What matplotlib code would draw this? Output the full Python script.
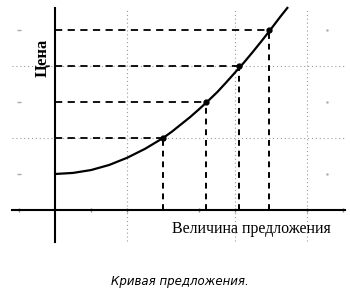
import matplotlib.pyplot as plt

# curve (1 unit = one small grid step)
curve_x = [0, 0.5, 1, 1.5, 2, 2.5, 3, 3.25, 3.5, 3.75, 4, 4.25, 4.5, 4.75, 5, 5.25, 5.5, 5.75, 6, 6.25, 6.45]
curve_y = [1.0, 1.03, 1.11, 1.25, 1.45, 1.7, 2.0, 2.18, 2.38, 2.58, 2.8, 3.03, 3.27, 3.54, 3.82, 4.1, 4.4, 4.71, 5.03, 5.36, 5.61]

# marked points on the curve
point_x = [3.0, 4.2, 5.1, 5.95]
point_y = [2.0, 3.0, 4.0, 5.0]

# faint notebook grid
grid_vx = [2, 5, 7]
grid_hy = [2, 4]
tick_x = [-1, 1, 2, 4, 5, 7, 8]
tick_y = [1, 3, 5]

fig = plt.figure(figsize=(3.5, 2.99), dpi=100)
ax = fig.add_axes([0, 0, 1, 1])
ax.set_xlim(-1.53, 8.19)
ax.set_ylim(-2.47, 5.83)
ax.axis('off')

# grid
for gx in grid_vx:
    ax.plot([gx, gx], [-0.85, 5.6], color='#9a9a9a', lw=0.8, ls=(0, (1, 2.5)), zorder=1)
for gy in grid_hy:
    ax.plot([-1.19, 8.06], [gy, gy], color='#9a9a9a', lw=0.8, ls=(0, (1, 2.5)), zorder=1)
ax.plot(tick_x, [0] * len(tick_x), ls='none', marker='|', ms=3, color='#888888', zorder=1)
ax.plot([-1] * len(tick_y), tick_y, ls='none', marker='_', ms=3, color='#aaaaaa', zorder=1)
ax.plot([7.55] * 3, [1, 3, 5], ls='none', marker='.', ms=1.5, color='#aaaaaa', zorder=1)

# axes
ax.plot([0, 0], [-0.89, 5.61], color='black', lw=1.5, zorder=3)
ax.plot([-1.19, 8.06], [0, 0], color='black', lw=1.5, zorder=3)

# dashed guides
for px, py in zip(point_x, point_y):
    ax.plot([0, px], [py, py], color='black', lw=1.3, ls=(0, (4, 3)), zorder=2)
    ax.plot([px, px], [0, py], color='black', lw=1.4, ls=(0, (3, 2.5)), zorder=2)

# supply curve
ax.plot(curve_x, curve_y, color='black', lw=1.6, zorder=4)
ax.plot(point_x, point_y, ls='none', marker='o', ms=3.5, color='black', zorder=5)

ax.text(-0.35, 4.22, 'Цена', rotation=90, ha='center', va='center',
        fontsize=12, fontweight='bold', family='Liberation Serif')
ax.text(3.25, -0.53, 'Величина предложения', ha='left', va='center',
        fontsize=11.5, family='Liberation Serif')
fig.text(0.515, 0.057, 'Кривая предложения.', ha='center', va='center',
         fontsize=8.5, style='italic', family='DejaVu Sans')

fig.savefig('out.png', dpi=100)
